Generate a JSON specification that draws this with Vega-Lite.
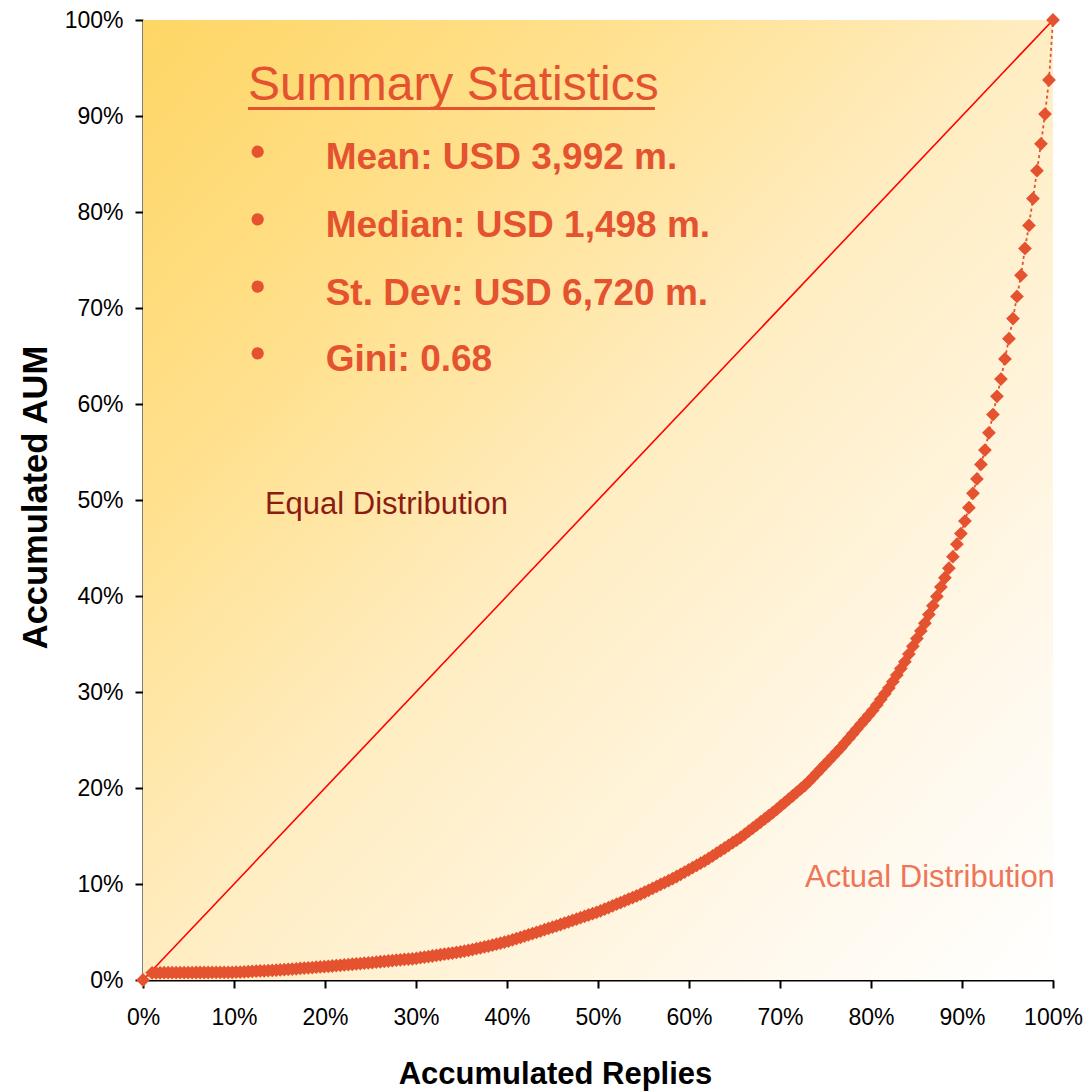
{
 "$schema": "https://vega.github.io/schema/vega-lite/v6.json",
 "width": 910,
 "height": 960,
 "autosize": {"type": "none"},
 "padding": {"left": 143, "top": 20, "right": 36, "bottom": 112},
 "background": "white",
 "config": {"view": {"stroke": null}, "font": "Liberation Sans"},
 "datasets": {
  "equal": [{"x": 0, "y": 0}, {"x": 100, "y": 100}],
  "curve": [
   {"x":0,"y":0},
   {"x":1.00,"y":0.75},{"x":1.44,"y":0.75},{"x":1.88,"y":0.75},{"x":2.32,"y":0.76},{"x":2.76,"y":0.76},{"x":3.20,"y":0.76},{"x":3.64,"y":0.76},{"x":4.08,"y":0.77},{"x":4.52,"y":0.77},{"x":4.96,"y":0.77},
   {"x":5.40,"y":0.77},{"x":5.84,"y":0.78},{"x":6.28,"y":0.78},{"x":6.72,"y":0.78},{"x":7.16,"y":0.78},{"x":7.60,"y":0.79},{"x":8.04,"y":0.79},{"x":8.48,"y":0.79},{"x":8.92,"y":0.79},{"x":9.36,"y":0.80},
   {"x":9.80,"y":0.80},{"x":10.24,"y":0.81},{"x":10.68,"y":0.83},{"x":11.12,"y":0.85},{"x":11.56,"y":0.87},{"x":12.00,"y":0.90},{"x":12.44,"y":0.92},{"x":12.88,"y":0.94},{"x":13.32,"y":0.96},{"x":13.76,"y":0.98},
   {"x":14.20,"y":1.00},{"x":14.64,"y":1.02},{"x":15.08,"y":1.05},{"x":15.52,"y":1.08},{"x":15.96,"y":1.11},{"x":16.40,"y":1.14},{"x":16.84,"y":1.17},{"x":17.28,"y":1.20},{"x":17.72,"y":1.24},{"x":18.16,"y":1.27},
   {"x":18.60,"y":1.30},{"x":19.04,"y":1.33},{"x":19.48,"y":1.36},{"x":19.92,"y":1.39},{"x":20.36,"y":1.43},{"x":20.80,"y":1.46},{"x":21.24,"y":1.50},{"x":21.68,"y":1.53},{"x":22.12,"y":1.57},{"x":22.56,"y":1.60},
   {"x":23.00,"y":1.64},{"x":23.44,"y":1.68},{"x":23.88,"y":1.71},{"x":24.32,"y":1.75},{"x":24.76,"y":1.78},{"x":25.20,"y":1.82},{"x":25.64,"y":1.86},{"x":26.08,"y":1.90},{"x":26.52,"y":1.94},{"x":26.96,"y":1.98},
   {"x":27.40,"y":2.02},{"x":27.84,"y":2.06},{"x":28.28,"y":2.10},{"x":28.72,"y":2.14},{"x":29.16,"y":2.17},{"x":29.60,"y":2.21},{"x":30.04,"y":2.25},{"x":30.48,"y":2.32},{"x":30.92,"y":2.38},{"x":31.36,"y":2.44},
   {"x":31.80,"y":2.50},{"x":32.24,"y":2.56},{"x":32.68,"y":2.63},{"x":33.12,"y":2.69},{"x":33.56,"y":2.75},{"x":34.00,"y":2.81},{"x":34.44,"y":2.87},{"x":34.88,"y":2.93},{"x":35.32,"y":3.01},{"x":35.76,"y":3.09},
   {"x":36.20,"y":3.17},{"x":36.64,"y":3.26},{"x":37.08,"y":3.35},{"x":37.52,"y":3.44},{"x":37.96,"y":3.53},{"x":38.40,"y":3.63},{"x":38.84,"y":3.73},{"x":39.28,"y":3.84},{"x":39.72,"y":3.94},{"x":40.16,"y":4.05},
   {"x":40.60,"y":4.18},{"x":41.04,"y":4.31},{"x":41.48,"y":4.44},{"x":41.92,"y":4.58},{"x":42.36,"y":4.71},{"x":42.80,"y":4.84},{"x":43.24,"y":4.97},{"x":43.68,"y":5.10},{"x":44.12,"y":5.24},{"x":44.56,"y":5.37},
   {"x":45.00,"y":5.50},{"x":45.44,"y":5.64},{"x":45.88,"y":5.78},{"x":46.32,"y":5.92},{"x":46.76,"y":6.06},{"x":47.20,"y":6.20},{"x":47.64,"y":6.34},{"x":48.08,"y":6.49},{"x":48.52,"y":6.63},{"x":48.96,"y":6.77},
   {"x":49.40,"y":6.91},{"x":49.84,"y":7.05},{"x":50.28,"y":7.21},{"x":50.72,"y":7.38},{"x":51.16,"y":7.55},{"x":51.60,"y":7.73},{"x":52.04,"y":7.90},{"x":52.48,"y":8.07},{"x":52.92,"y":8.24},{"x":53.36,"y":8.42},
   {"x":53.80,"y":8.59},{"x":54.24,"y":8.76},{"x":54.68,"y":8.94},{"x":55.12,"y":9.14},{"x":55.56,"y":9.34},{"x":56.00,"y":9.54},{"x":56.44,"y":9.75},{"x":56.88,"y":9.95},{"x":57.32,"y":10.15},{"x":57.76,"y":10.35},
   {"x":58.20,"y":10.55},{"x":58.64,"y":10.78},{"x":59.08,"y":11.01},{"x":59.52,"y":11.24},{"x":59.96,"y":11.47},{"x":60.40,"y":11.71},{"x":60.84,"y":11.94},{"x":61.28,"y":12.17},{"x":61.72,"y":12.40},{"x":62.16,"y":12.66},
   {"x":62.60,"y":12.93},{"x":63.04,"y":13.21},{"x":63.48,"y":13.48},{"x":63.92,"y":13.75},{"x":64.36,"y":14.03},{"x":64.80,"y":14.30},{"x":65.24,"y":14.58},{"x":65.68,"y":14.86},{"x":66.12,"y":15.18},{"x":66.56,"y":15.50},
   {"x":67.00,"y":15.82},{"x":67.44,"y":16.14},{"x":67.88,"y":16.46},{"x":68.32,"y":16.78},{"x":68.76,"y":17.11},{"x":69.20,"y":17.43},{"x":69.64,"y":17.77},{"x":70.08,"y":18.13},{"x":70.52,"y":18.48},{"x":70.96,"y":18.84},
   {"x":71.40,"y":19.19},{"x":71.84,"y":19.55},{"x":72.28,"y":19.90},{"x":72.72,"y":20.26},{"x":73.16,"y":20.66},{"x":73.60,"y":21.10},{"x":74.04,"y":21.54},{"x":74.48,"y":21.98},{"x":74.92,"y":22.42},{"x":75.36,"y":22.86},
   {"x":75.80,"y":23.30},{"x":76.24,"y":23.74},{"x":76.68,"y":24.19},{"x":77.12,"y":24.68},{"x":77.56,"y":25.16},{"x":78.00,"y":25.65},{"x":78.44,"y":26.14},{"x":78.88,"y":26.63},{"x":79.32,"y":27.11},{"x":79.76,"y":27.60},
   {"x":80.20,"y":28.09},{"x":80.64,"y":28.65},{"x":81.08,"y":29.24},{"x":81.52,"y":29.83},{"x":81.96,"y":30.41},{"x":82.40,"y":31.07},{"x":82.84,"y":31.76},{"x":83.28,"y":32.44},{"x":83.72,"y":33.14},{"x":84.16,"y":33.95},
   {"x":84.60,"y":34.76},{"x":85.04,"y":35.57},{"x":85.48,"y":36.36},{"x":85.92,"y":37.16},{"x":86.36,"y":38.06},{"x":86.80,"y":38.98},{"x":87.24,"y":39.95},{"x":87.68,"y":40.95},{"x":88.12,"y":41.90},{"x":88.56,"y":42.90},
   {"x":89.00,"y":44.10},{"x":89.44,"y":45.40},{"x":89.88,"y":46.50},{"x":90.32,"y":47.80},{"x":90.76,"y":49.20},{"x":91.20,"y":50.70},{"x":91.64,"y":52.20},{"x":92.08,"y":53.70},{"x":92.52,"y":55.20},{"x":92.96,"y":57.00},
   {"x":93.40,"y":58.90},{"x":93.84,"y":60.80},{"x":94.28,"y":62.60},{"x":94.72,"y":64.70},{"x":95.16,"y":66.80},{"x":95.60,"y":68.90},{"x":96.04,"y":71.20},{"x":96.48,"y":73.40},{"x":96.92,"y":76.20},{"x":97.36,"y":78.60},
   {"x":97.80,"y":81.40},{"x":98.24,"y":84.30},{"x":98.68,"y":87.10},{"x":99.12,"y":90.20},{"x":99.56,"y":93.75},{"x":100.00,"y":100.00}
  ]
 },
 "layer": [
  {
   "data": {"values": [{"area": "plot"}]},
   "mark": {"type": "rect", "fill": {"gradient": "linear", "x1": 0, "y1": 0, "x2": 1, "y2": 1,
     "stops": [{"offset": 0, "color": "#FED665"}, {"offset": 0.25, "color": "#FFE08C"}, {"offset": 0.5, "color": "#FFEDC2"}, {"offset": 0.8, "color": "#FFF8EA"}, {"offset": 1, "color": "#FFFFFF"}]}},
   "encoding": {
    "x": {"datum": 0, "type": "quantitative"},
    "x2": {"datum": 100},
    "y": {"datum": 0, "type": "quantitative"},
    "y2": {"datum": 100}
   }
  },
  {
   "data": {"name": "equal"},
   "mark": {"type": "line", "color": "#FF0000", "strokeWidth": 1.6},
   "encoding": {
    "x": {"field": "x", "type": "quantitative"},
    "y": {"field": "y", "type": "quantitative"}
   }
  },
  {
   "data": {"name": "curve"},
   "mark": {"type": "line", "color": "#E4522F", "strokeWidth": 1.8, "strokeDash": [3, 3]},
   "encoding": {
    "x": {"field": "x", "type": "quantitative"},
    "y": {"field": "y", "type": "quantitative"}
   }
  },
  {
   "data": {"name": "curve"},
   "mark": {"type": "point", "shape": "diamond", "filled": true, "size": 190, "color": "#E4522F", "opacity": 1, "strokeWidth": 0},
   "encoding": {
    "x": {"field": "x", "type": "quantitative",
     "scale": {"domain": [0, 100], "nice": false},
     "axis": {"title": "Accumulated Replies", "values": [0,10,20,30,40,50,60,70,80,90,100], "labelExpr": "datum.value + '%'",
      "grid": false, "domainColor": "black", "domainWidth": 2, "tickColor": "black", "tickWidth": 2, "tickSize": 8,
      "labelFontSize": 23, "labelColor": "black", "labelFont": "Liberation Sans", "labelPadding": 18, "labelFlush": false, "labelOverlap": false,
      "titleFontSize": 31, "titleFontWeight": "bold", "titleColor": "black", "titleFont": "Liberation Sans",
      "titleX": 412, "titleY": 103, "titleBaseline": "alphabetic", "titleAlign": "center"}},
    "y": {"field": "y", "type": "quantitative",
     "scale": {"domain": [0, 100], "nice": false},
     "axis": {"title": "Accumulated AUM", "values": [0,10,20,30,40,50,60,70,80,90,100], "labelExpr": "datum.value + '%'",
      "grid": false, "domainColor": "black", "domainWidth": 2, "tickColor": "black", "tickWidth": 2, "tickSize": 8,
      "labelFontSize": 23, "labelColor": "black", "labelFont": "Liberation Sans", "labelPadding": 12, "labelFlush": false, "labelOverlap": false,
      "titleFontSize": 34.5, "titleFontWeight": "bold", "titleColor": "black", "titleFont": "Liberation Sans",
      "titleX": -97, "titleY": 477, "titleAngle": -90, "titleBaseline": "alphabetic", "titleAlign": "center"}}
   }
  },
  {
   "data": {"values": [{"label": "Summary Statistics"}]},
   "mark": {"type": "text", "align": "left", "baseline": "alphabetic", "fontSize": 48, "color": "#E4522F", "font": "Liberation Sans"},
   "encoding": {"x": {"datum": 11.54, "type": "quantitative"}, "y": {"datum": 91.67, "type": "quantitative"}, "text": {"field": "label"}}
  },
  {
   "data": {"values": [{"label": "underline"}]},
   "mark": {"type": "rule", "color": "#E4522F", "strokeWidth": 3},
   "encoding": {"x": {"datum": 11.54, "type": "quantitative"}, "x2": {"datum": 56.26}, "y": {"datum": 90.78, "type": "quantitative"}}
  },
  {
   "data": {"values": [{"item": "Mean"}]},
   "mark": {"type": "point", "shape": "circle", "filled": true, "size": 150, "color": "#E4522F", "opacity": 1, "strokeWidth": 0},
   "encoding": {"x": {"datum": 12.6, "type": "quantitative"}, "y": {"datum": 86.28, "type": "quantitative"}}
  },
  {
   "data": {"values": [{"item": "Median"}]},
   "mark": {"type": "point", "shape": "circle", "filled": true, "size": 150, "color": "#E4522F", "opacity": 1, "strokeWidth": 0},
   "encoding": {"x": {"datum": 12.6, "type": "quantitative"}, "y": {"datum": 79.24, "type": "quantitative"}}
  },
  {
   "data": {"values": [{"item": "St. Dev"}]},
   "mark": {"type": "point", "shape": "circle", "filled": true, "size": 150, "color": "#E4522F", "opacity": 1, "strokeWidth": 0},
   "encoding": {"x": {"datum": 12.6, "type": "quantitative"}, "y": {"datum": 72.22, "type": "quantitative"}}
  },
  {
   "data": {"values": [{"item": "Gini"}]},
   "mark": {"type": "point", "shape": "circle", "filled": true, "size": 150, "color": "#E4522F", "opacity": 1, "strokeWidth": 0},
   "encoding": {"x": {"datum": 12.6, "type": "quantitative"}, "y": {"datum": 65.28, "type": "quantitative"}}
  },
  {
   "data": {"values": [{"label": "Mean: USD 3,992 m."}]},
   "mark": {"type": "text", "align": "left", "baseline": "alphabetic", "fontSize": 37, "fontWeight": "bold", "color": "#E4522F", "font": "Liberation Sans"},
   "encoding": {"x": {"datum": 20.07, "type": "quantitative"}, "y": {"datum": 84.45, "type": "quantitative"}, "text": {"field": "label"}}
  },
  {
   "data": {"values": [{"label": "Median: USD 1,498 m."}]},
   "mark": {"type": "text", "align": "left", "baseline": "alphabetic", "fontSize": 37, "fontWeight": "bold", "color": "#E4522F", "font": "Liberation Sans"},
   "encoding": {"x": {"datum": 20.07, "type": "quantitative"}, "y": {"datum": 77.36, "type": "quantitative"}, "text": {"field": "label"}}
  },
  {
   "data": {"values": [{"label": "St. Dev: USD 6,720 m."}]},
   "mark": {"type": "text", "align": "left", "baseline": "alphabetic", "fontSize": 37, "fontWeight": "bold", "color": "#E4522F", "font": "Liberation Sans"},
   "encoding": {"x": {"datum": 20.07, "type": "quantitative"}, "y": {"datum": 70.31, "type": "quantitative"}, "text": {"field": "label"}}
  },
  {
   "data": {"values": [{"label": "Gini: 0.68"}]},
   "mark": {"type": "text", "align": "left", "baseline": "alphabetic", "fontSize": 37, "fontWeight": "bold", "color": "#E4522F", "font": "Liberation Sans"},
   "encoding": {"x": {"datum": 20.07, "type": "quantitative"}, "y": {"datum": 63.47, "type": "quantitative"}, "text": {"field": "label"}}
  },
  {
   "data": {"values": [{"label": "Equal Distribution"}]},
   "mark": {"type": "text", "align": "left", "baseline": "alphabetic", "fontSize": 31, "color": "#8C1C13", "font": "Liberation Sans"},
   "encoding": {"x": {"datum": 13.4, "type": "quantitative"}, "y": {"datum": 48.54, "type": "quantitative"}, "text": {"field": "label"}}
  },
  {
   "data": {"values": [{"label": "Actual Distribution"}]},
   "mark": {"type": "text", "align": "left", "baseline": "alphabetic", "fontSize": 31, "color": "#EE7559", "font": "Liberation Sans"},
   "encoding": {"x": {"datum": 72.75, "type": "quantitative"}, "y": {"datum": 9.69, "type": "quantitative"}, "text": {"field": "label"}}
  }
 ]
}
